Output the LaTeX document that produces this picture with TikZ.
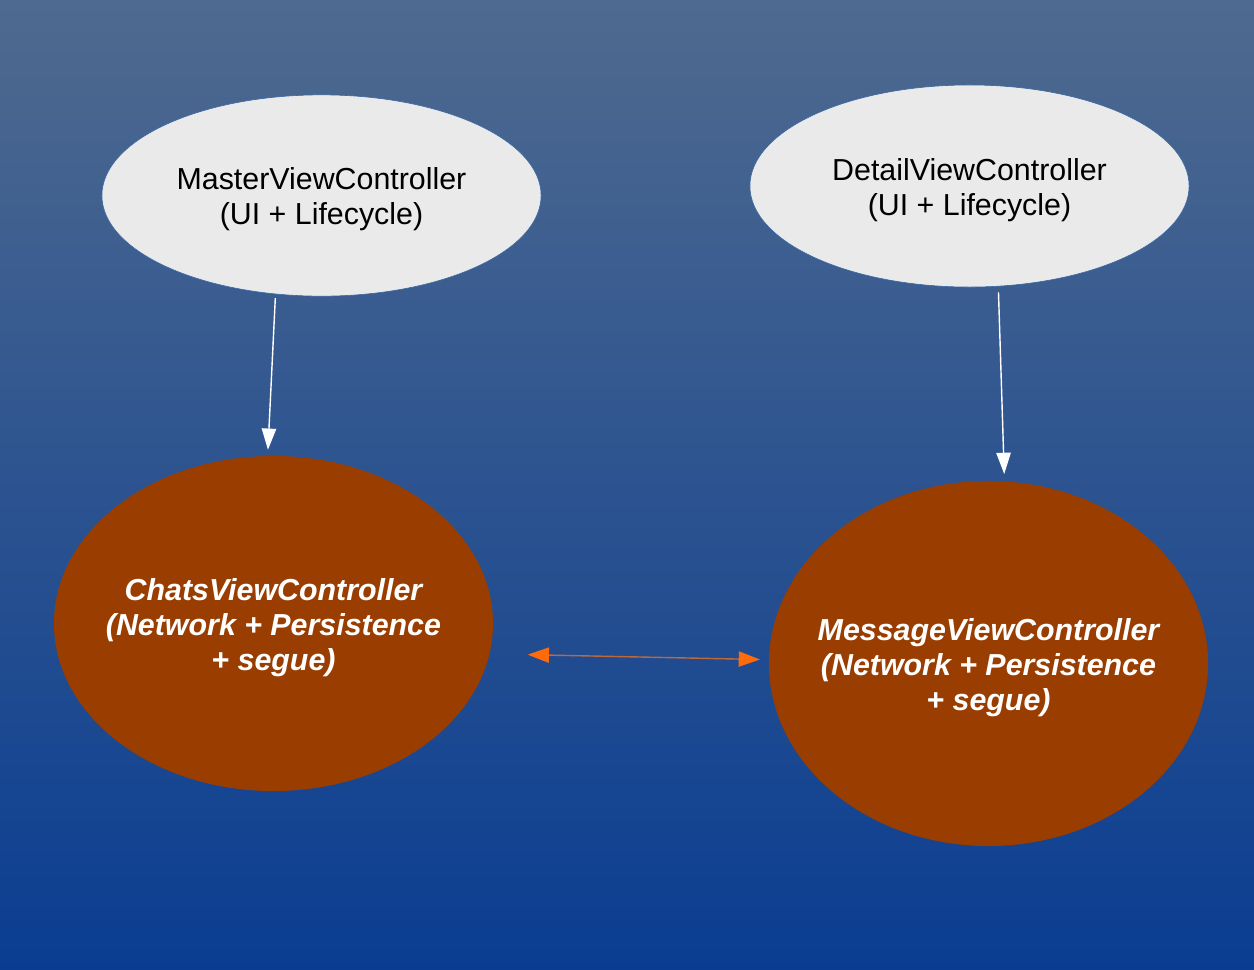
\documentclass[tikz,border=0pt]{standalone}
\usepackage{fontspec}
\setmainfont{Liberation Sans}
\usetikzlibrary{shapes.geometric,arrows.meta}
\definecolor{bgtop}{RGB}{79,106,143}
\definecolor{bgbot}{RGB}{10,61,145}
\definecolor{lightnode}{RGB}{234,234,234}
\definecolor{nodeborder}{RGB}{52,101,164}
\definecolor{brownnode}{RGB}{153,61,0}
\definecolor{arroworange}{RGB}{255,106,10}
\definecolor{lineorange}{RGB}{190,105,60}
\tikzset{
  lightell/.style={ellipse, fill=lightnode, draw=nodeborder, line width=0.4pt, inner sep=0pt,
    minimum width=10.975cm, minimum height=5.03cm},
  brownell/.style={ellipse, fill=brownnode, inner sep=0pt, minimum width=10.975cm},
  lighttext/.style={align=center, text=black, inner sep=0pt, yshift=-0.1cm,
    font=\fontsize{21.6}{24.9}\selectfont},
  browntext/.style={align=center, text=white, inner sep=0pt, yshift=-0.1cm,
    font=\fontsize{21.6}{24.9}\selectfont\bfseries\itshape},
  whitearrow/.style={draw=white, line width=1pt,
    -{Triangle[length=0.53cm,width=0.36cm,fill=white]}},
  orangearrow/.style={draw=lineorange, line width=1pt,
    {Triangle[length=0.53cm,width=0.38cm,fill=arroworange,color=arroworange]}-{Triangle[length=0.53cm,width=0.38cm,fill=arroworange,color=arroworange]}}
}
\begin{document}
\begin{tikzpicture}[x=0.025cm,y=-0.025cm]
\shade[top color=bgtop, bottom color=bgbot] (0,0) rectangle (1254,969);
\useasboundingbox (0,0) rectangle (1254,969);
\node[lightell, label={[lighttext]center:MasterViewController\\(UI + Lifecycle)}] (master) at (321.5,195.5) {};
\node[lightell, minimum height=5.05cm, label={[lighttext]center:DetailViewController\\(UI + Lifecycle)}] (detail) at (969.5,186) {};
\node[brownell, minimum height=8.375cm, label={[browntext]center:ChatsViewController\\(Network + Persistence\\+ segue)}] (chats) at (273.5,623.5) {};
\node[brownell, minimum height=9.125cm, label={[browntext]center:MessageViewController\\(Network + Persistence\\+ segue)}] (message) at (988.5,663.5) {};
\draw[whitearrow, shorten <=0.1cm, shorten >=0.15cm] (master.245) -- (chats.92);
\draw[whitearrow, shorten <=0.15cm, shorten >=0.18cm] (detail.286.5) -- (message.85);
\draw[orangearrow, shorten <=0.95cm, shorten >=0.22cm] (chats.-8.2) -- (message.179.2);
\end{tikzpicture}
\end{document}
